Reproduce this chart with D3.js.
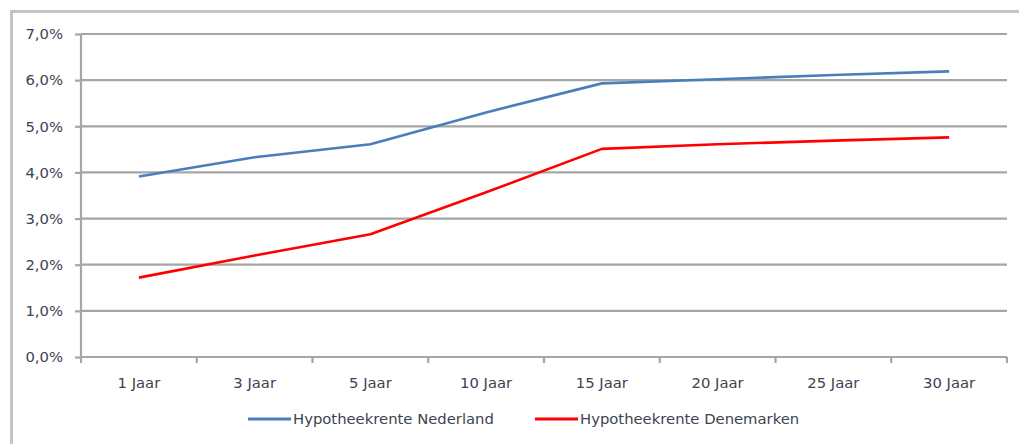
<!DOCTYPE html>
<html>
<head>
<meta charset="utf-8">
<script src="https://cdn.jsdelivr.net/npm/d3@7/dist/d3.min.js"></script>
<style>
  html, body { margin: 0; padding: 0; background: #fff; }
  svg { display: block; }
  text { font-family: "DejaVu Sans", Verdana, sans-serif; fill: #3d4352; }
</style>
</head>
<body>
<svg id="chart" width="1019" height="444"></svg>
<script>
// Looptijden (categorieën)
const categories = ["1 Jaar", "3 Jaar", "5 Jaar", "10 Jaar", "15 Jaar", "20 Jaar", "25 Jaar", "30 Jaar"];
// Hypotheekrente in procenten per looptijd
const nederland = [3.91, 4.33, 4.61, 5.30, 5.93, 6.02, 6.11, 6.19];
const denemarken = [1.72, 2.20, 2.66, 3.57, 4.51, 4.61, 4.69, 4.76];
// Reeksnamen en kleuren
const seriesNames = ["Hypotheekrente Nederland", "Hypotheekrente Denemarken"];
const seriesColors = ["#4a7ebb", "#ff0000"];
// Y-as ticks (fractie)
const yTicks = [0, 0.01, 0.02, 0.03, 0.04, 0.05, 0.06, 0.07];

const svg = d3.select("#chart");
const plot = { left: 81, right: 1007, top: 34, bottom: 357 };
const fontSize = 14.8;

const nl = d3.formatLocale({ decimal: ",", thousands: ".", grouping: [3], currency: ["€", ""] });
const pct = nl.format(".1%");

// Buitenkader
svg.append("rect")
  .attr("x", 11.5).attr("y", 11.5)
  .attr("width", 1040).attr("height", 460)
  .attr("fill", "none").attr("stroke", "#c4c4c4").attr("stroke-width", 3);

const x = d3.scaleBand().domain(categories).range([plot.left, plot.right]).padding(0);
const y = d3.scaleLinear().domain([0, 0.07]).range([plot.bottom, plot.top]);

// Rasterlijnen
svg.append("g").selectAll("line").data(yTicks.slice(1)).join("line")
  .attr("x1", plot.left).attr("x2", plot.right)
  .attr("y1", d => y(d)).attr("y2", d => y(d))
  .attr("stroke", "#a6a6a6").attr("stroke-width", 2.2);

// Y-as
const yAxis = svg.append("g").attr("transform", `translate(${plot.left},0)`)
  .call(d3.axisLeft(y).tickValues(yTicks).tickFormat(pct).tickSize(6).tickPadding(12));
yAxis.select(".domain").attr("stroke", "#a6a6a6").attr("stroke-width", 2.2)
  .attr("d", `M0,${plot.top}V${plot.bottom}`);
yAxis.selectAll(".tick line").attr("stroke", "#a6a6a6").attr("stroke-width", 2.2);
yAxis.selectAll(".tick text").attr("font-size", fontSize).attr("font-family", "DejaVu Sans").style("fill", "#3d4352");

// X-as
const xAxis = svg.append("g").attr("transform", `translate(0,${plot.bottom})`)
  .call(d3.axisBottom(x).tickSize(0).tickPadding(20));
xAxis.select(".domain").attr("stroke", "#a6a6a6").attr("stroke-width", 2.2)
  .attr("d", `M${plot.left},0H${plot.right}`);
xAxis.selectAll(".tick text").attr("font-size", fontSize).attr("font-family", "DejaVu Sans").style("fill", "#3d4352");
// Tickstreepjes tussen de categorieën
const edges = categories.map(c => x(c)).concat([x(categories[categories.length - 1]) + x.bandwidth()]);
xAxis.append("g").selectAll("line").data(edges).join("line")
  .attr("x1", d => d).attr("x2", d => d)
  .attr("y1", 0).attr("y2", 6)
  .attr("stroke", "#a6a6a6").attr("stroke-width", 2.2);

// Lijnen
const cx = c => x(c) + x.bandwidth() / 2;
const line = d3.line().x(d => cx(d.cat)).y(d => y(d.v / 100));
[nederland, denemarken].forEach((vals, i) => {
  const pts = categories.map((c, j) => ({ cat: c, v: vals[j] }));
  svg.append("path").datum(pts)
    .attr("d", line)
    .attr("fill", "none")
    .attr("stroke", seriesColors[i])
    .attr("stroke-width", 2.6)
    .attr("stroke-linejoin", "round");
});

// Legenda
const legend = [
  { name: seriesNames[0], color: seriesColors[0], x: 248 },
  { name: seriesNames[1], color: seriesColors[1], x: 535 }
];
const lg = svg.append("g").selectAll("g").data(legend).join("g")
  .attr("transform", d => `translate(${d.x},419)`);
lg.append("line").attr("x1", 0).attr("x2", 43).attr("y1", 0).attr("y2", 0)
  .attr("stroke", d => d.color).attr("stroke-width", 3);
lg.append("text").attr("x", 45).attr("y", 5)
  .attr("font-size", fontSize)
  .text(d => d.name);
</script>
</body>
</html>
